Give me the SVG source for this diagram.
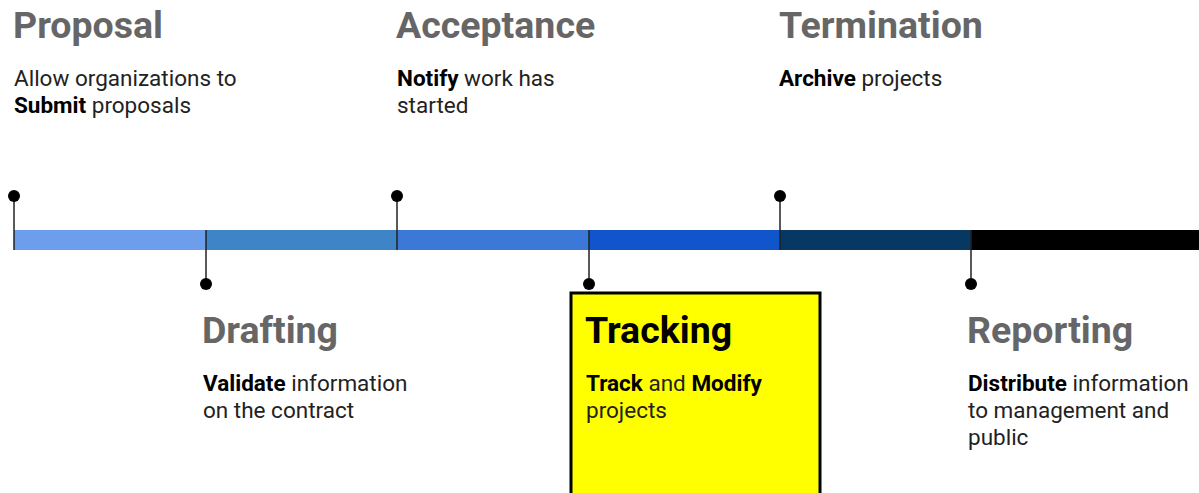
<svg xmlns="http://www.w3.org/2000/svg" width="1199" height="493" viewBox="0 0 1199 493">
<style>
.t{font-family:Roboto,"Liberation Sans",sans-serif;font-weight:700;font-size:37.5px;fill:#666666}
.b{font-family:Roboto,"Liberation Sans",sans-serif;font-size:22.5px;fill:#222222}
.b tspan.k{font-weight:700;fill:#000}
.ln{stroke:#222;stroke-width:1.5}
.dot{fill:#000}
</style>
<rect width="1199" height="493" fill="#fff"/>
<g id="bar">
<rect x="14" y="230" width="192" height="20" fill="#6d9eeb"/>
<rect x="206" y="230" width="191" height="20" fill="#3d85c6"/>
<rect x="397" y="230" width="192" height="20" fill="#3c78d8"/>
<rect x="589" y="230" width="191" height="20" fill="#1155cc"/>
<rect x="780" y="230" width="191" height="20" fill="#073763"/>
<rect x="971" y="230" width="228" height="20" fill="#000"/>
</g>
<g id="connectors">
<line class="ln" x1="14" y1="196" x2="14" y2="250"/><circle class="dot" cx="14" cy="196" r="6"/>
<line class="ln" x1="206" y1="230" x2="206" y2="284"/><circle class="dot" cx="206" cy="284" r="6"/>
<line class="ln" x1="397" y1="196" x2="397" y2="250"/><circle class="dot" cx="397" cy="196" r="6"/>
<line class="ln" x1="589" y1="230" x2="589" y2="284"/><circle class="dot" cx="589" cy="284" r="6"/>
<line class="ln" x1="780" y1="196" x2="780" y2="250"/><circle class="dot" cx="780" cy="196" r="6"/>
<line class="ln" x1="971" y1="230" x2="971" y2="284"/><circle class="dot" cx="971" cy="284" r="6"/>
</g>
<g id="proposal">
<text class="t" x="13" y="38">Proposal</text>
<text class="b" x="14" y="86">Allow organizations to</text>
<text class="b" x="14" y="113"><tspan class="k">Submit</tspan> proposals</text>
</g>
<g id="acceptance">
<text class="t" x="396" y="38">Acceptance</text>
<text class="b" x="397" y="86"><tspan class="k">Notify</tspan> work has</text>
<text class="b" x="397" y="113">started</text>
</g>
<g id="termination">
<text class="t" x="779" y="38">Termination</text>
<text class="b" x="779" y="86"><tspan class="k">Archive</tspan> projects</text>
</g>
<g id="drafting">
<text class="t" x="202" y="343">Drafting</text>
<text class="b" x="203" y="391"><tspan class="k">Validate</tspan> information</text>
<text class="b" x="203" y="418">on the contract</text>
</g>
<g id="tracking">
<rect x="571" y="293" width="249" height="205" fill="#ffff00" stroke="#000" stroke-width="3"/>
<text class="t" x="585" y="343" style="fill:#000">Tracking</text>
<text class="b" x="586" y="391"><tspan class="k">Track</tspan> and <tspan class="k">Modify</tspan></text>
<text class="b" x="586" y="418">projects</text>
</g>
<g id="reporting">
<text class="t" x="967" y="343">Reporting</text>
<text class="b" x="968" y="391"><tspan class="k">Distribute</tspan> information</text>
<text class="b" x="968" y="418">to management and</text>
<text class="b" x="968" y="445">public</text>
</g>
</svg>
